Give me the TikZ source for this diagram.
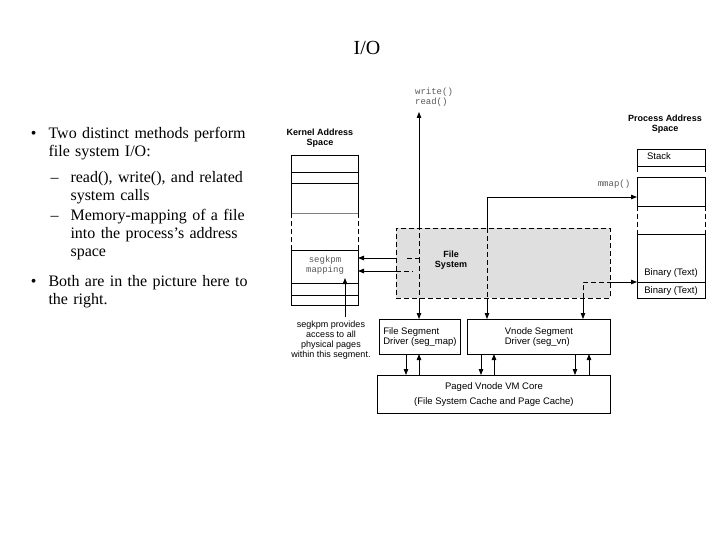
\documentclass[tikz,border=0pt]{standalone}
\usepackage{fontspec}
\setmainfont{Liberation Serif}
\newfontfamily\diagfont{Liberation Sans}
\newfontfamily\codefont{Liberation Mono}
\usetikzlibrary{arrows.meta, positioning}

\begin{document}
\begin{tikzpicture}[
    x=1pt, y=-1pt,
    box/.style={rectangle, draw, line width=0.9pt, font=\diagfont\fontsize{9.5}{10.5}\selectfont, inner sep=0pt},
    cell/.style={draw, line width=0.6pt},
    lbl/.style={font=\diagfont\fontsize{9.5}{10.5}\selectfont},
    head/.style={font=\diagfont\bfseries\fontsize{9}{9.5}\selectfont, align=center},
    code/.style={font=\codefont\fontsize{9}{9.5}\selectfont, text=gray!70!black, align=left},
    arrow/.style={-{Triangle[length=6pt,width=4.5pt]}, line width=0.8pt},
    dashline/.style={line width=0.8pt, dash pattern=on 5pt off 3pt}
]
\useasboundingbox (0,0) rectangle (720,540);

% slide text
\node[font=\fontsize{20}{24}\selectfont] (title) at (367,48) {I/O};
\node[anchor=north west, text width=240pt, align=left, font=\fontsize{16}{18}\selectfont] (bullets) at (20,109) {%
  \begin{itemize}\raggedright\setlength{\itemsep}{8pt}\setlength{\labelsep}{12pt}
  \item Two distinct methods perform file system I/O:
    \begin{itemize}\raggedright\setlength{\itemsep}{0pt}
    \item[--] read(), write(), and related system calls
    \item[--] Memory-mapping of a file into the process's address space
    \end{itemize}
  \item Both are in the picture here to the right.
  \end{itemize}};

% file system region
\node[draw, dashline, fill=gray!25, minimum width=214pt, minimum height=70pt, anchor=north west] (fs) at (396,228) {};
\node[head] (fslabel) at (451,260) {File\\System};

% kernel address space
\node[head] (kas) at (320,138) {Kernel Address\\Space};
\draw[cell] (291,155) -- (358,155);
\draw[cell] (291,155) -- (291,213) (358,155) -- (358,213);
\draw[cell] (291,172) -- (358,172) (291,183) -- (358,183);
\draw[gray, line width=0.5pt] (291,213) -- (358,213);
\draw[dashline, line width=0.6pt] (291,213) -- (291,250) (358,213) -- (358,250);
\draw[cell] (291,250) rectangle (358,305);
\draw[cell] (291,283) -- (358,283) (291,295) -- (358,295);
\node[code, align=center] (segkpm) at (325,265) {segkpm\\mapping};

% process address space
\node[head] (pas) at (665,124) {Process Address\\Space};
\draw[cell] (637,149) rectangle (705,166);
\node[lbl] (stack) at (659,156) {Stack};
\draw[cell] (637,166) -- (637,172) (705,166) -- (705,172);
\draw[cell] (637,177) rectangle (705,206);
\draw[dashline, line width=0.6pt] (637,206) -- (637,234) (705,206) -- (705,234);
\draw[cell] (637,234) rectangle (705,298);
\draw[cell] (637,282) -- (705,282);
\coordinate (mmapin) at (637,197);
\coordinate (textin) at (637,282);
\node[lbl] (bin1) at (671,273) {Binary (Text)};
\node[lbl] (bin2) at (671,291) {Binary (Text)};

% segment drivers and VM core
\node[box, minimum width=81pt, minimum height=35pt, anchor=north west, align=left] (fseg) at (379,319) {File Segment\\Driver (seg\_map)};
\node[box, minimum width=143pt, minimum height=35pt, anchor=north west, align=left] (vseg) at (467,319) {Vnode Segment\\Driver (seg\_vn)};
\node[box, minimum width=233pt, minimum height=38pt, anchor=north west, align=center] (core) at (377,375) {Paged Vnode VM Core\\[5pt](File System Cache and Page Cache)};

% read/write path
\node[code] (rw) at (434,97) {write()\\read()};
\coordinate (rwtop) at (419,112);
\draw[arrow] (419,228) -- (rwtop);
\draw[dashline] (407,258) -- (419,258) -- (419,228);
\draw[dashline] (419,258) -- (419,298);
\draw[arrow] (419,298) -- (fseg.north -| 419,0);
\draw[arrow] (fs.west |- 0,258) -- (358,258);
\draw[dashline] (396,271) -- (413,271);
\draw[arrow] (fs.west |- 0,271) -- (358,271);

% mmap path
\node[code] (mmap) at (614,184) {mmap()};
\coordinate (vin) at (vseg.north -| 487,0);
\draw[arrow] (487,228) -- (487,197) -- (mmapin);
\draw[dashline] (487,228) -- (487,298);
\draw[arrow] (487,298) -- (vin);
\draw[dashline] (583,298) -- (583,282) -- (610,282);
\draw[arrow] (610,282) -- (textin);
\draw[arrow] (583,298) -- (vseg.north -| 583,0);

% driver <-> core
\foreach \d/\u in {406/419, 481/494, 575/589} {
  \draw[arrow] (\d,354) -- (\d,375);
  \draw[arrow] (\u,375) -- (\u,354);
}

% segkpm note
\node[font=\diagfont\fontsize{9}{10}\selectfont, align=center] (note) at (331,340) {segkpm provides\\access to all\\physical pages\\within this segment.};
\draw[arrow] (note.north -| 345,0) -- (345,278);
\end{tikzpicture}
\end{document}
